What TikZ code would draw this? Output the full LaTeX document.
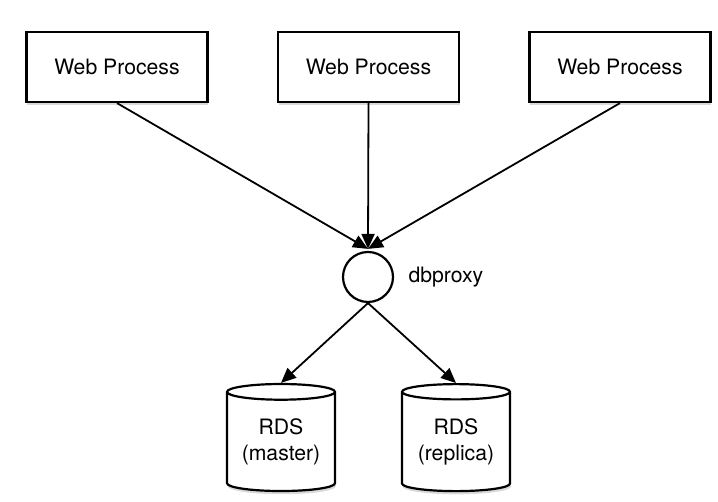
\documentclass[tikz,border=0pt]{standalone}
\usepackage{fontspec}
\setmainfont{TeX Gyre Heros}
\usetikzlibrary{arrows.meta,positioning,shapes.geometric,shadows}

\tikzset{
  shadowed/.style={drop shadow={shadow xshift=0.4pt, shadow yshift=-1.6pt, opacity=0.3}},
  process/.style={draw, line width=1.1pt, fill=white, minimum width=90.5pt, minimum height=35pt, inner sep=0pt, shadowed},
  store/.style={draw, line width=1.1pt, fill=white, cylinder, shape border rotate=90, aspect=0.2, minimum width=54pt, minimum height=53.5pt, align=center, inner sep=0pt, shadowed},
  proxy/.style={draw, line width=1.1pt, fill=white, circle, minimum size=25pt, inner sep=0pt},
  link/.style={-{Triangle[length=7.5pt,width=6.5pt]}, line width=0.9pt}
}

\begin{document}
\begin{tikzpicture}[x=0.5pt, y=0.5pt, font=\fontsize{10.6}{13}\selectfont]
		%%%%% START %%%%%
		\useasboundingbox (0, 0) rectangle (718, 502);
		
		\node[process] (web1) at (117, 435) {Web Process};
		\node[process] (web2) at (368.5, 435) {Web Process};
		\node[process] (web3) at (620, 435) {Web Process};
		
		\node[proxy] (db) at (368, 225) {};
		\node[anchor=west, inner sep=0pt] (dblabel) at ([xshift=7pt]db.east) {dbproxy};
		
		\node[store] (master) at (281, 60) {RDS\\(master)};
		\node[store] (replica) at (456, 60) {RDS\\(replica)};
		
		\draw[link] (web1.south) -- ([yshift=1pt]db.north);
		\draw[link] (web2.south) -- ([yshift=1pt]db.north);
		\draw[link] (web3.south) -- ([yshift=1pt]db.north);
		
		\draw[link] (db.south) -- (master.north);
		\draw[link] (db.south) -- (replica.north);
		%%%%% END %%%%%
\end{tikzpicture}
\end{document}
